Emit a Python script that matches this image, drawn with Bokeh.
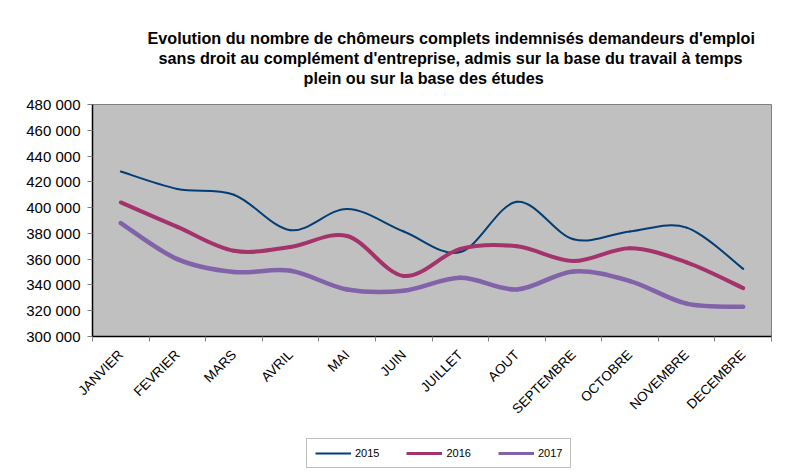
import math
from bokeh.plotting import figure
from bokeh.layouts import column
from bokeh.models import Range1d, FixedTicker, Legend, LegendItem, Title, ColumnDataSource
from bokeh.embed import file_html
from bokeh.resources import INLINE

months = ["JANVIER", "FEVRIER", "MARS", "AVRIL", "MAI", "JUIN", "JUILLET",
          "AOUT", "SEPTEMBRE", "OCTOBRE", "NOVEMBRE", "DECEMBRE"]
v2015 = [428000, 414500, 410000, 382500, 399000, 381500, 365500, 404500, 375500, 381500, 384500, 352500]
v2016 = [404000, 385000, 366500, 369500, 378000, 347000, 368000, 370000, 358500, 368500, 357500, 337500]
v2017 = [388000, 360000, 350000, 351000, 336500, 335500, 345500, 336500, 350500, 343000, 325500, 323000]
series_names = ["2015", "2016", "2017"]
series_colors = ["#033D75", "#A5336B", "#8263A9"]
series_widths = [2, 4, 4.5]
y_ticks = [300000, 320000, 340000, 360000, 380000, 400000, 420000, 440000, 460000, 480000]
y_tick_labels = ["300 000", "320 000", "340 000", "360 000", "380 000",
                 "400 000", "420 000", "440 000", "460 000", "480 000"]
title_lines = ["Evolution du nombre de chômeurs complets indemnisés demandeurs d'emploi",
               "sans droit au complément d'entreprise, admis sur la base du travail à temps",
               "plein ou sur la base des études"]
title_left = [55, 66, 211]

FONT = "Liberation Sans"

p = figure(width=777, height=430, output_backend="svg", toolbar_location=None,
           x_range=Range1d(-0.5, len(months) - 0.5), y_range=Range1d(300000, 480000),
           min_border_left=92, min_border_right=6, min_border_top=104, min_border_bottom=94)
p.background_fill_color = "#C0C0C0"
p.border_fill_color = "white"
p.outline_line_color = "#808080"
p.outline_line_width = 1
p.xgrid.visible = False
p.ygrid.visible = False

# spacer between frame and title block
p.add_layout(Title(text="\u00a0", text_font=FONT, text_font_size="14px", standoff=0,
                   text_line_height=1.0), "above")
# titles (added from the frame outward)
for t, off in reversed(list(zip(title_lines, title_left))):
    p.add_layout(Title(text=t, align="left", text_font=FONT, text_font_size="16.2px",
                       text_font_style="bold", text_color="black", offset=off,
                       text_line_height=0.95, standoff=0), "above")


def smooth_segments(xs, ys):
    n = len(xs)
    out = dict(x0=[], y0=[], x1=[], y1=[], cx0=[], cy0=[], cx1=[], cy1=[])
    for i in range(n - 1):
        ip = max(i - 1, 0)
        inn = min(i + 2, n - 1)
        out["x0"].append(xs[i]); out["y0"].append(ys[i])
        out["x1"].append(xs[i + 1]); out["y1"].append(ys[i + 1])
        out["cx0"].append(xs[i] + (xs[i + 1] - xs[ip]) / 6.0)
        out["cy0"].append(ys[i] + (ys[i + 1] - ys[ip]) / 6.0)
        out["cx1"].append(xs[i + 1] - (xs[inn] - xs[i]) / 6.0)
        out["cy1"].append(ys[i + 1] - (ys[inn] - ys[i]) / 6.0)
    return out


xs = list(range(len(months)))
all_series = [v2015, v2016, v2017]
for name, vals, col, lw in zip(series_names, all_series, series_colors, series_widths):
    src = ColumnDataSource(smooth_segments(xs, vals))
    p.bezier(x0="x0", y0="y0", x1="x1", y1="y1", cx0="cx0", cy0="cy0", cx1="cx1", cy1="cy1",
             source=src, line_color=col, line_width=lw, line_cap="round")

# x axis
xa = p.xaxis[0]
xa.ticker = FixedTicker(ticks=xs, minor_ticks=[i - 0.5 for i in range(len(months) + 1)])
xa.major_label_overrides = {i: m for i, m in enumerate(months)}
xa.major_label_orientation = math.pi / 4
xa.major_tick_out = 0
xa.major_tick_in = 0
xa.minor_tick_out = 5
xa.minor_tick_in = 0
xa.minor_tick_line_color = "#808080"
xa.axis_line_color = "black"
xa.axis_line_width = 1.5
xa.major_label_text_font = FONT
xa.major_label_text_font_size = "13.5px"
xa.major_label_text_color = "black"
xa.major_label_standoff = 11

# y axis
ya = p.yaxis[0]
ya.ticker = FixedTicker(ticks=y_ticks)
ya.major_label_overrides = {t: l for t, l in zip(y_ticks, y_tick_labels)}
ya.major_tick_out = 5
ya.major_tick_in = 0
ya.major_tick_line_color = "#808080"
ya.minor_tick_line_color = None
ya.axis_line_color = "black"
ya.axis_line_width = 1.5
ya.major_label_text_font = FONT
ya.major_label_text_font_size = "15px"
ya.major_label_text_color = "black"
ya.major_label_standoff = 7

# legend strip below the chart (series drawn out of this strip's view, used only for the key)
p2 = figure(width=777, height=44, output_backend="svg", toolbar_location=None,
            x_range=Range1d(0, 1), y_range=Range1d(0, 1),
            min_border_left=0, min_border_right=0, min_border_top=0, min_border_bottom=0)
p2.axis.visible = False
p2.xgrid.visible = False
p2.ygrid.visible = False
p2.outline_line_color = None
p2.background_fill_color = "white"
p2.border_fill_color = "white"
items = []
for name, vals, col, lw in zip(series_names, all_series, series_colors, series_widths):
    r = p2.line(x=xs, y=vals, line_color=col, line_width=min(lw, 3))
    items.append(LegendItem(label=name, renderers=[r]))
legend = Legend(items=items, orientation="horizontal", location=(214, 6),
                label_text_font=FONT, label_text_font_size="11px", label_text_color="black",
                glyph_width=36, glyph_height=10, label_standoff=4, spacing=27,
                padding=8, margin=0, border_line_color="#808080", border_line_width=1,
                background_fill_color="white", label_height=12)
p2.add_layout(legend, "center")

layout = column(p, p2, spacing=0)
open("out.html", "w").write(file_html(layout, INLINE))
